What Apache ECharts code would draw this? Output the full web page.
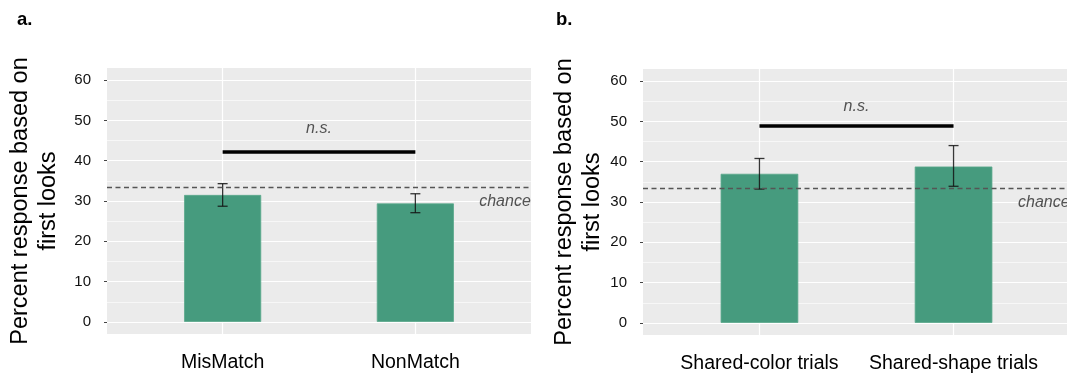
<!DOCTYPE html>
<html>
<head>
<meta charset="utf-8">
<script src="https://cdn.jsdelivr.net/npm/echarts@6.0.0/dist/echarts.min.js"></script>
<style>
  html, body { margin: 0; padding: 0; background: #fff; }
  #chart { width: 1067px; height: 375px; }
</style>
</head>
<body>
<div id="chart"></div>
<script>
// panel a
var catsA = ['MisMatch', 'NonMatch'];
var meanA = [31.5, 29.4];
var lowA = [28.7, 27.1];
var highA = [34.3, 31.8];
var sigA = 42.2;
var nsA = 48.1;

// panel b
var catsB = ['Shared-color trials', 'Shared-shape trials'];
var meanB = [37.0, 38.8];
var lowB = [33.2, 33.9];
var highB = [40.8, 44.0];
var sigB = 48.8;
var nsB = 53.7;

var chanceLevel = 33.3;
var chanceLabel = [2.465, 29.9];
var yTicks = [0, 10, 20, 30, 40, 50, 60];
var yMinor = [5, 15, 25, 35, 45, 55];
var xPos = [1, 2];

var FONT = 'Liberation Sans, Arial, Helvetica, sans-serif';
var BAR = '#469b7e';

var grids = [
  { left: 107, top: 68, width: 424, height: 266 },
  { left: 643, top: 69, width: 427, height: 266 }
];

function pairs(xs, ys) {
  return xs.map(function (x, i) { return [x, ys[i]]; });
}

// error bar: vertical line with caps
function renderErr(params, api) {
  var x = api.value(0);
  var top = api.coord([x, api.value(2)]);
  var bot = api.coord([x, api.value(1)]);
  var hw = 5;
  var st = { stroke: 'rgba(20,20,20,0.85)', lineWidth: 1.3 };
  return {
    type: 'group',
    children: [
      { type: 'line', shape: { x1: top[0], y1: top[1], x2: bot[0], y2: bot[1] }, style: st },
      { type: 'line', shape: { x1: top[0] - hw, y1: top[1], x2: top[0] + hw, y2: top[1] }, style: st },
      { type: 'line', shape: { x1: bot[0] - hw, y1: bot[1], x2: bot[0] + hw, y2: bot[1] }, style: st }
    ]
  };
}

function panelSeries(idx, mean, low, high, sig, ns) {
  var unit = grids[idx].width / 2.2;
  var gridLines = [];
  yTicks.forEach(function (v) {
    gridLines.push({ yAxis: v, lineStyle: { color: '#fff', width: 1.2, type: 'solid' } });
  });
  yMinor.forEach(function (v) {
    gridLines.push({ yAxis: v, lineStyle: { color: '#fff', width: 0.6, type: 'solid' } });
  });
  xPos.forEach(function (v) {
    gridLines.push({ xAxis: v, lineStyle: { color: '#fff', width: 1.2, type: 'solid' } });
  });
  return [
    {
      // panel grid lines
      type: 'line',
      xAxisIndex: idx,
      yAxisIndex: idx,
      data: [],
      z: 1,
      markLine: {
        silent: true,
        z: 1,
        symbol: 'none',
        label: { show: false },
        data: gridLines
      }
    },
    {
      type: 'bar',
      xAxisIndex: idx,
      yAxisIndex: idx,
      barWidth: 0.4 * unit,
      itemStyle: { color: BAR, borderColor: '#5aa88c', borderWidth: 0.8 },
      z: 2,
      data: pairs(xPos, mean)
    },
    {
      type: 'custom',
      xAxisIndex: idx,
      yAxisIndex: idx,
      renderItem: renderErr,
      z: 3,
      data: xPos.map(function (x, i) { return [x, low[i], high[i]]; })
    },
    {
      // chance line + significance bar
      type: 'line',
      xAxisIndex: idx,
      yAxisIndex: idx,
      data: [],
      markLine: {
        silent: true,
        z: 5,
        symbol: 'none',
        label: { show: false },
        data: [
          { yAxis: chanceLevel, lineStyle: { color: '#555', width: 1.3, type: [5, 3.5] } },
          [
            { coord: [xPos[0], sig], lineStyle: { color: '#000', width: 3.5, type: 'solid' } },
            { coord: [xPos[1], sig] }
          ]
        ]
      }
    },
    {
      type: 'scatter',
      xAxisIndex: idx,
      yAxisIndex: idx,
      symbolSize: 1,
      itemStyle: { color: 'rgba(0,0,0,0)' },
      z: 6,
      label: {
        show: true,
        position: 'inside',
        fontStyle: 'italic',
        fontFamily: FONT,
        fontSize: 16,
        color: '#2b2b2b',
        formatter: function (p) { return p.data[2]; }
      },
      data: [
        [(xPos[0] + xPos[1]) / 2, ns, 'n.s.'],
        [chanceLabel[0], chanceLabel[1], 'chance']
      ]
    }
  ];
}

function xAxisFor(idx, cats) {
  return {
    type: 'value',
    gridIndex: idx,
    min: 0.4,
    max: 2.6,
    axisLine: { show: false },
    splitLine: { show: false },
    axisTick: { show: true, length: 3, customValues: xPos, lineStyle: { color: '#444' } },
    axisLabel: {
      customValues: xPos,
      margin: 19,
      fontSize: 19.5,
      fontFamily: FONT,
      color: '#000',
      formatter: function (v) { return cats[Math.round(v) - 1]; }
    }
  };
}

function yAxisFor(idx, gap) {
  return {
    type: 'value',
    gridIndex: idx,
    min: -3,
    max: 63,
    axisLine: { show: false },
    splitLine: { show: false },
    axisTick: { show: true, length: 3, customValues: yTicks, lineStyle: { color: '#444' } },
    axisLabel: {
      customValues: yTicks,
      margin: 16,
      fontSize: 15,
      fontFamily: FONT,
      color: '#111'
    },
    name: 'Percent response based on\nfirst looks',
    nameLocation: 'middle',
    nameGap: gap,
    nameTextStyle: { fontSize: 23.5, lineHeight: 27.5, fontFamily: FONT, color: '#000' }
  };
}

var myChart = echarts.init(document.getElementById('chart'), null, { renderer: 'canvas' });
var option = {
  animation: false,
  backgroundColor: '#fff',
  title: [
    { text: 'a.', left: 17, top: 10, padding: 0, textStyle: { fontSize: 18.5, fontWeight: 'bold', fontFamily: FONT, color: '#000' } },
    { text: 'b.', left: 556, top: 10, padding: 0, textStyle: { fontSize: 18.5, fontWeight: 'bold', fontFamily: FONT, color: '#000' } }
  ],
  grid: grids.map(function (g) {
    return {
      left: g.left, top: g.top, width: g.width, height: g.height,
      show: true, backgroundColor: '#ebebeb', borderWidth: 0,
      containLabel: false, outerBoundsMode: 'none'
    };
  }),
  xAxis: [xAxisFor(0, catsA), xAxisFor(1, catsB)],
  yAxis: [yAxisFor(0, 45), yAxisFor(1, 37)],
  series: panelSeries(0, meanA, lowA, highA, sigA, nsA)
    .concat(panelSeries(1, meanB, lowB, highB, sigB, nsB))
};
myChart.setOption(option);
window.onresize = myChart.resize;
</script>
</body>
</html>
